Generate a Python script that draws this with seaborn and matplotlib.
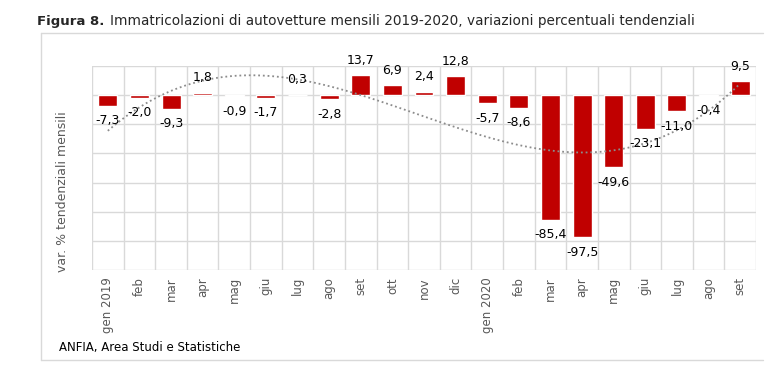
import numpy as np
import pandas as pd
import matplotlib
matplotlib.use("Agg")
import matplotlib.pyplot as plt
import seaborn as sns
from matplotlib.lines import Line2D

# ---- data ----
mesi = ["gen 2019", "feb", "mar", "apr", "mag", "giu", "lug", "ago", "set", "ott", "nov", "dic",
        "gen 2020", "feb", "mar", "apr", "mag", "giu", "lug", "ago", "set"]
chiavi = [f"{i:02d}_{m}" for i, m in enumerate(mesi)]
variazioni = [-7.3, -2.0, -9.3, 1.8, -0.9, -1.7, 0.3, -2.8, 13.7, 6.9, 2.4, 12.8,
              -5.7, -8.6, -85.4, -97.5, -49.6, -23.1, -11.0, -0.4, 9.5]
titolo_bold = "Figura 8."
titolo = "Immatricolazioni di autovetture mensili 2019-2020, variazioni percentuali tendenziali"
fonte = "ANFIA, Area Studi e Statistiche"
ylabel = "var. % tendenziali mensili"

df = pd.DataFrame({"mese": chiavi, "var": variazioni, "pos": np.arange(len(chiavi))})

sns.set_theme(style="white")
plt.rcParams["font.family"] = ["DejaVu Sans"]

W, H = 783, 372
fig = plt.figure(figsize=(W / 100, H / 100), dpi=100)
ax = fig.add_axes([92 / W, 1 - 270 / H, (756 - 92) / W, (270 - 66) / H])

sns.barplot(data=df, x="mese", y="var", color="#C00000", saturation=1, width=0.6, ax=ax, zorder=3)
# polynomial (order 3) trend line, as in the original chart
sns.regplot(data=df, x="pos", y="var", order=3, ci=None, scatter=False, truncate=True, ax=ax,
            line_kws=dict(color="#8C8C8C", lw=1.3, ls=(0, (1, 1.6)), zorder=4))

ax.set_xlim(-0.5, len(chiavi) - 0.5)
ax.set_ylim(-120, 20)
ax.set_yticks(np.arange(-120, 21, 20))
ax.set_yticklabels([])
ax.tick_params(axis="y", length=0)
ax.set_xticks(np.arange(len(chiavi)))
ax.set_xticklabels(mesi, rotation=90, fontsize=8.5, color="#595959", va="top", ha="center")
ax.tick_params(axis="x", length=0, pad=5)
ax.set_xlabel("")
ax.set_ylabel("")

gc = "#D9D9D9"
ax.grid(False)
for yv in np.arange(-120, 21, 20):
    ax.axhline(yv, color=gc, lw=1, zorder=1)
for xv in np.arange(-0.5, len(chiavi), 1.0):
    ax.axvline(xv, color=gc, lw=1, zorder=1)
for s in ax.spines.values():
    s.set_visible(False)

for i, v in enumerate(variazioni):
    txt = f"{v:.1f}".replace(".", ",")
    off = 6 if v >= 0 else -6
    ax.annotate(txt, (i, v), xytext=(0, off), textcoords="offset points",
                ha="center", va="bottom" if v >= 0 else "top", fontsize=9, color="black", zorder=5)

fig.text(62 / W, 1 - 192 / H, ylabel, rotation=90, fontsize=9, color="#595959", ha="center", va="center")

# title
t1 = fig.text(37 / W, 1 - 21 / H, titolo_bold, fontsize=9.5, fontweight="bold", va="center", ha="left")
t2 = fig.text(110 / W, 1 - 21 / H, titolo, fontsize=10.5, va="center", ha="left")
fig.canvas.draw()
r = fig.canvas.get_renderer()
bb2 = t2.get_window_extent(r)
t2.set_fontsize(10.5 * 587 / bb2.width)

fig.text(59 / W, 1 - 348 / H, fonte, fontsize=8.5, va="center", ha="left", color="black")

fc = "#D9D9D9"
fig.add_artist(Line2D([41 / W, 763 / W], [1 - 33 / H, 1 - 33 / H], color=fc, lw=1, transform=fig.transFigure))
fig.add_artist(Line2D([41 / W, 763 / W], [1 - 360 / H, 1 - 360 / H], color=fc, lw=1, transform=fig.transFigure))
fig.add_artist(Line2D([41 / W, 41 / W], [1 - 33 / H, 1 - 360 / H], color=fc, lw=1, transform=fig.transFigure))

fig.savefig("out.png", dpi=100, facecolor="white")
